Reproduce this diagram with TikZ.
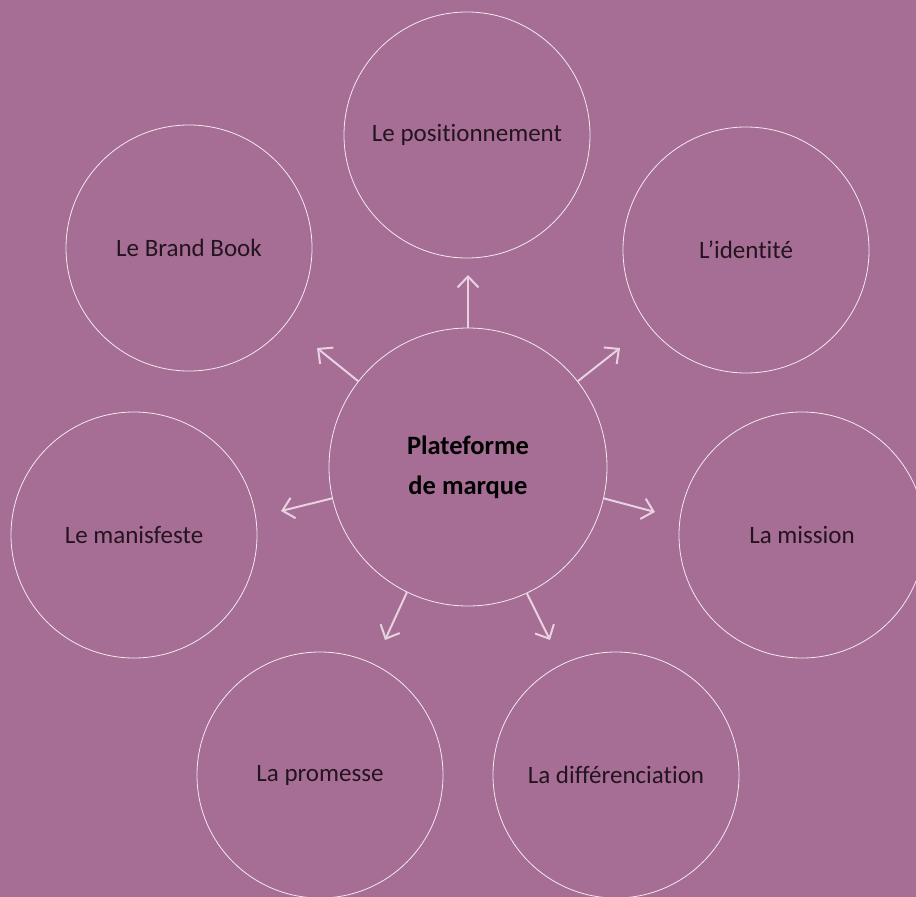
\documentclass[tikz,border=0pt]{standalone}
\usepackage{fontspec}
\setmainfont{Carlito}[Ligatures=NoCommon]
\usetikzlibrary{arrows.meta}
\definecolor{bgpurple}{HTML}{A66E94}
\definecolor{ringcol}{HTML}{F4E8F0}
\definecolor{arrowcol}{HTML}{E8D2E1}
\definecolor{textcol}{HTML}{24141F}
\begin{document}
\begin{tikzpicture}[x=1pt,y=-1pt,
  ring/.style={circle,draw=ringcol,line width=0.8pt,minimum size=246pt,inner sep=0pt,
    text=textcol,font=\fontsize{25}{30}\selectfont},
  hub/.style={circle,draw=ringcol,line width=0.8pt,minimum size=278pt,inner sep=0pt,
    text=black,align=center,font=\fontsize{26.5}{40}\selectfont\bfseries},
  spoke/.style={draw=arrowcol,line width=2pt,-{Straight Barb[length=11pt,width=21pt,line width=2pt]}}]
\useasboundingbox[fill=bgpurple] (0,0) rectangle (916,897);
\node[hub] (c) at (468,467) {Plateforme\\de marque};
\node[ring] (pos) at (467,135) {Le positionnement};
\node[ring] (bb) at (189,248) {Le Brand Book};
\node[ring] (id) at (746,250) {L’identité};
\node[ring] (man) at (134,535) {Le manisfeste};
\node[ring] (mis) at (802,535) {La mission};
\node[ring] (pro) at (320,775) {La promesse};
\node[ring] (dif) at (616,775) {La différenciation};
\coordinate (tpos) at (468,275);
\coordinate (tbb) at (317,348);
\coordinate (tid) at (620,348);
\coordinate (tman) at (281,511);
\coordinate (tmis) at (655,512);
\coordinate (tpro) at (385,640);
\coordinate (tdif) at (550,640);
\draw[spoke] (c.90) -- (tpos);
\draw[spoke] (c.142) -- (tbb);
\draw[spoke] (c.38) -- (tid);
\draw[spoke] (c.193.6) -- (tman);
\draw[spoke] (c.-13.7) -- (tmis);
\draw[spoke] (c.244.5) -- (tpro);
\draw[spoke] (c.295) -- (tdif);
\end{tikzpicture}
\end{document}
